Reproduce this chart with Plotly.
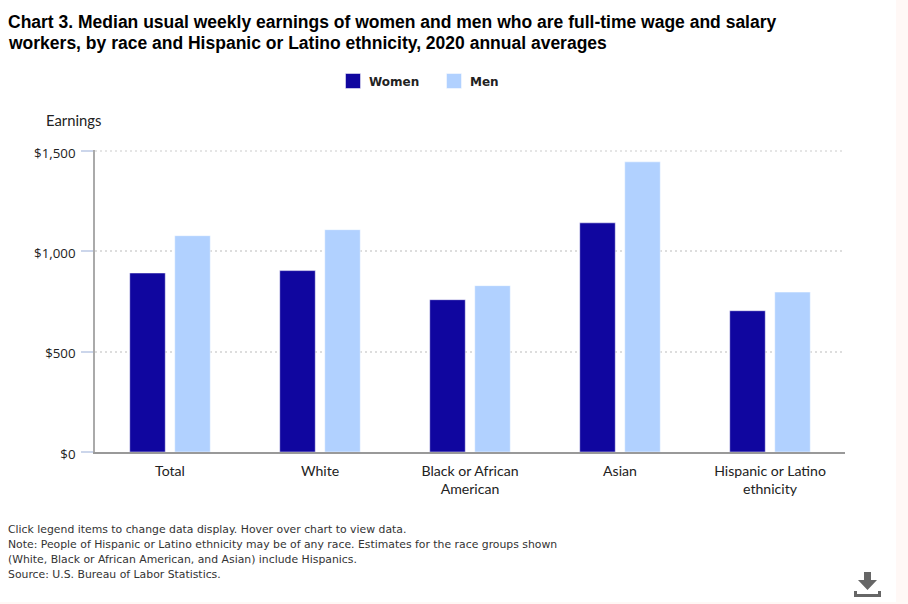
import plotly.graph_objects as go

categories = ["Total", "White", "Black or African<br>American", "Asian", "Hispanic or Latino<br>ethnicity"]
women = [892, 904, 759, 1142, 704]
men = [1078, 1108, 829, 1446, 797]
y_ticks = [0, 500, 1000, 1500]
y_labels = ["$0", "$500", "$1,000", "$1,500"]
title_lines = ["Chart 3. Median usual weekly earnings of women and men who are full-time wage and salary",
               "workers, by race and Hispanic or Latino ethnicity, 2020 annual averages"]
note_lines = ["Click legend items to change data display. Hover over chart to view data.",
              "Note: People of Hispanic or Latino ethnicity may be of any race. Estimates for the race groups shown",
              "(White, Black or African American, and Asian) include Hispanics.",
              "Source: U.S. Bureau of Labor Statistics."]

W, H = 896, 602
L, R, T, B = 95, 845, 150, 452
BODY = "Lato, Roboto, sans-serif"
INK = "#222222"


def px(x):
    return (x - L) / (R - L)


def py(y):
    return (B - y) / (B - T)


fig = go.Figure()
fig.add_bar(name="Women", x=categories, y=women, marker_color="#10069f",
            marker_line=dict(color="#ffffff", width=0.5),
            hovertemplate="%{x}<br>Women: $%{y:,}<extra></extra>")
fig.add_bar(name="Men", x=categories, y=men, marker_color="#b1d1ff",
            marker_line=dict(color="#ffffff", width=0.5),
            hovertemplate="%{x}<br>Men: $%{y:,}<extra></extra>")

icon = "#666666"
shapes = [
    dict(type="line", xref="paper", yref="y", x0=0, x1=1, y0=y_ticks[-1], y1=y_ticks[-1],
         line=dict(color="#dddddd", width=1.5, dash="2px,3px")),
    dict(type="path", xref="paper", yref="paper", line_width=0, fillcolor=icon,
         path="M %f %f L %f %f L %f %f L %f %f L %f %f L %f %f L %f %f Z" % (
             px(864), py(572), px(871), py(572), px(871), py(580), px(877), py(580),
             px(867.5), py(590), px(858), py(580), px(864), py(580))),
    dict(type="path", xref="paper", yref="paper", line_width=0, fillcolor=icon,
         path="M %f %f L %f %f L %f %f L %f %f L %f %f L %f %f L %f %f L %f %f Z" % (
             px(854), py(591), px(857), py(591), px(857), py(594), px(878), py(594),
             px(878), py(591), px(881), py(591), px(881), py(597), px(854), py(597))),
]

annotations = [
    dict(text="Earnings", xref="paper", yref="paper", x=px(43.5), y=py(120.5), xanchor="left", yanchor="middle",
         showarrow=False, font=dict(family=BODY, size=14.8, color=INK)),
]
for i, line in enumerate(title_lines):
    annotations.append(dict(text="<b>%s</b>" % line, xref="paper", yref="paper", x=px(5.5), y=py(21.5 + 21.5 * i),
                            xanchor="left", yanchor="middle", align="left", showarrow=False,
                            font=dict(family="Liberation Sans", size=17.5, color="#000000")))
for i, line in enumerate(note_lines):
    annotations.append(dict(text=line, xref="paper", yref="paper", x=px(5.5), y=py(529 + 15 * i), xanchor="left",
                            yanchor="middle", align="left", showarrow=False,
                            font=dict(family="DejaVu Sans", size=10.85, color="#333333")))

fig.update_layout(
    width=W, height=H, margin=dict(l=L, r=W - R, t=T, b=H - B, pad=0),
    paper_bgcolor="#ffffff", plot_bgcolor="#ffffff",
    barmode="group", bargap=0.4, bargroupgap=0.21,
    showlegend=True,
    legend=dict(orientation="h", x=px(329), y=py(81), xanchor="left", yanchor="middle",
                entrywidth=56, entrywidthmode="pixels",
                font=dict(family="DejaVu Sans", size=12, color=INK, weight="bold"),
                itemclick="toggle"),
    shapes=shapes, annotations=annotations, font=dict(family=BODY, size=14.1, color=INK),
)
fig.update_xaxes(showgrid=False, showline=True, linecolor="#999999", linewidth=2, ticks="",
                 ticklabelstandoff=5,
                 tickfont=dict(family=BODY, size=14.1, color=INK), fixedrange=True)
fig.update_yaxes(range=[0, 1505], tickvals=y_ticks, ticktext=y_labels, showgrid=True, griddash="2px,3px",
                 gridcolor="#dddddd", gridwidth=1.5, zeroline=False, showline=True, linecolor="#aaaaaa",
                 linewidth=1.5, ticks="outside", ticklen=12, tickcolor="#ccd6eb", tickwidth=1.5,
                 ticklabelstandoff=3, ticklabelshift=2,
                 tickfont=dict(family="Open Sans, sans-serif", size=13.3, color=INK), fixedrange=True)

post = """
document.body.style.margin='0';
document.body.style.background='#fff8f6';
document.querySelectorAll('.legendbar path, .legendpoints path').forEach(function(p){
  p.setAttribute('d','M11.5,7.5H-3.5V-7.5H11.5Z');
});
"""
fig.write_html("out.html", config=dict(displayModeBar=False), post_script=post)
